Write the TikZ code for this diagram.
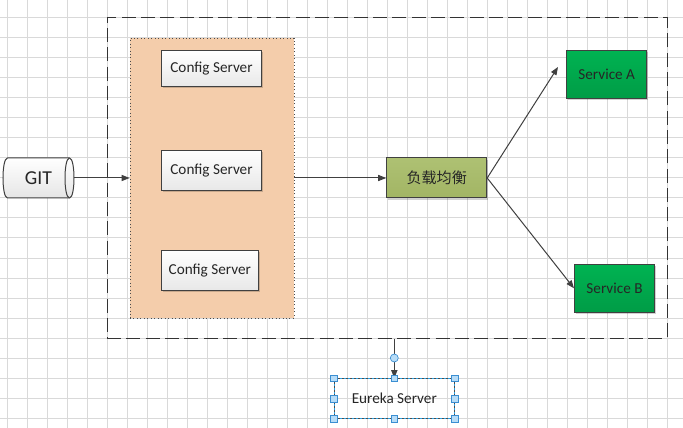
\documentclass[tikz,border=0pt]{standalone}
\usepackage{fontspec}
\setmainfont{Carlito}
\newfontfamily\cjkfont{Noto Sans CJK SC}
\usetikzlibrary{arrows.meta,shadows}
\definecolor{gridc}{HTML}{D9D9D9}
\definecolor{linec}{HTML}{404040}
\definecolor{peach}{HTML}{F4CDAB}
\definecolor{olivetop}{HTML}{AEC173}
\definecolor{olivebot}{HTML}{A2B564}
\definecolor{greentop}{HTML}{00B352}
\definecolor{greenbot}{HTML}{009C46}
\definecolor{selblue}{HTML}{2A9FE0}
\definecolor{handlefill}{HTML}{B7DCF7}
\definecolor{handledraw}{HTML}{3A8ED2}
\begin{document}
\begin{tikzpicture}[x=0.75pt,y=-0.75pt,
  gridline/.style={draw=gridc, line width=0.75pt},
  txt/.style={font=\fontsize{11.4pt}{13pt}\selectfont, text=black!85},
  boxbase/.style={draw=linec, line width=0.75pt, inner sep=0pt, txt},
  shad/.style={drop shadow={shadow xshift=1.2pt, shadow yshift=-1.2pt, fill=black, opacity=0.18}},
  cfgbox/.style={boxbase, shad, top color=white, bottom color=black!9, minimum height=30pt},
  lbbox/.style={boxbase, shad, top color=olivetop, bottom color=olivebot, minimum width=75pt, minimum height=30pt},
  svcbox/.style={boxbase, shad, top color=greentop, bottom color=greenbot, minimum width=60pt, minimum height=36pt},
  container/.style={draw=black!70, line width=0.6pt, dotted, fill=peach, inner sep=0pt},
  outerbox/.style={draw=black!80, line width=0.75pt, dash pattern=on 10.5pt off 4pt, inner sep=0pt},
  arr/.style={draw=linec, line width=0.75pt, -{Triangle[length=6pt,width=4.6pt]}},
  handle/.style={draw=handledraw, fill=handlefill, line width=0.5pt, minimum size=5pt, inner sep=0pt},
]
\useasboundingbox (0,0) rectangle (683,428);
\fill[white] (0,0) rectangle (683,428);
% grid
\foreach \gx in {7,27,...,687} \draw[gridline] (\gx,0) -- (\gx,428);
\foreach \gy in {18,38,...,428} \draw[gridline] (0,\gy) -- (683,\gy);

% outer dashed frame
\node[outerbox, minimum width=420pt, minimum height=240pt] (outer) at (387,178) {};

% config container
\node[container, minimum width=123pt, minimum height=210pt] (cfg) at (212,178) {};
\node[cfgbox, minimum width=75pt, minimum height=27pt] (c1) at (211.5,68.5) {Config Server};
\node[cfgbox, minimum width=75pt] (c2) at (211.5,170.3) {Config Server};
\node[cfgbox, minimum width=72.75pt] (c3) at (209.8,270.3) {Config Server};

% GIT cylinder
\path[top color=white, bottom color=black!10, draw=linec, line width=0.75pt]
  (7.5,158) -- (69.5,158) .. controls (75.5,158) and (75.5,198) .. (69.5,198)
  -- (7.5,198) .. controls (1.5,198) and (1.5,158) .. (7.5,158) -- cycle;
\draw[linec, line width=0.75pt] (69.5,158) .. controls (63.5,158) and (63.5,198) .. (69.5,198);
\node[minimum width=53.25pt, minimum height=30pt, inner sep=0pt,
      font=\fontsize{14.8pt}{16pt}\selectfont, text=black!85] (git) at (38.5,178) {GIT};

% load balancer
\node[lbbox] (lb) at (436.7,178) {\cjkfont\fontsize{11.3pt}{13pt}\selectfont 负载均衡};

% services
\node[svcbox] (sa) at (606.7,74.5) {Service A};
\node[svcbox] (sb) at (614.5,288.3) {Service B};
\coordinate (satip) at (558,67);

% eureka
\node[txt, minimum width=90pt, minimum height=30pt, inner sep=0pt] (eu) at (394.3,398.5) {Eureka Server};
\coordinate (eutop) at (eu.north |- outer.south);

% connectors
\draw[arr] (git.east) -- (cfg.west);
\draw[arr] (cfg.east) -- (lb.west);
\draw[arr] (lb.east) -- (satip);
\draw[arr] (lb.east) -- (sb.west);
\draw[arr] (eutop) -- (eu.north);

% selection frame around eureka
\draw[black!70, line width=0.7pt, dash pattern=on 1.5pt off 1.5pt] (eu.north west) rectangle (eu.south east);
\draw[selblue, line width=0.7pt, dash pattern=on 1.5pt off 1.5pt, dash phase=1.5pt] (eu.north west) rectangle (eu.south east);
\foreach \a in {north west,north,north east,west,east,south west,south,south east}
  \node[handle] at (eu.\a) {};
\node[handle, circle, minimum size=6pt] (rot) at (394.3,358) {};
\end{tikzpicture}
\end{document}
